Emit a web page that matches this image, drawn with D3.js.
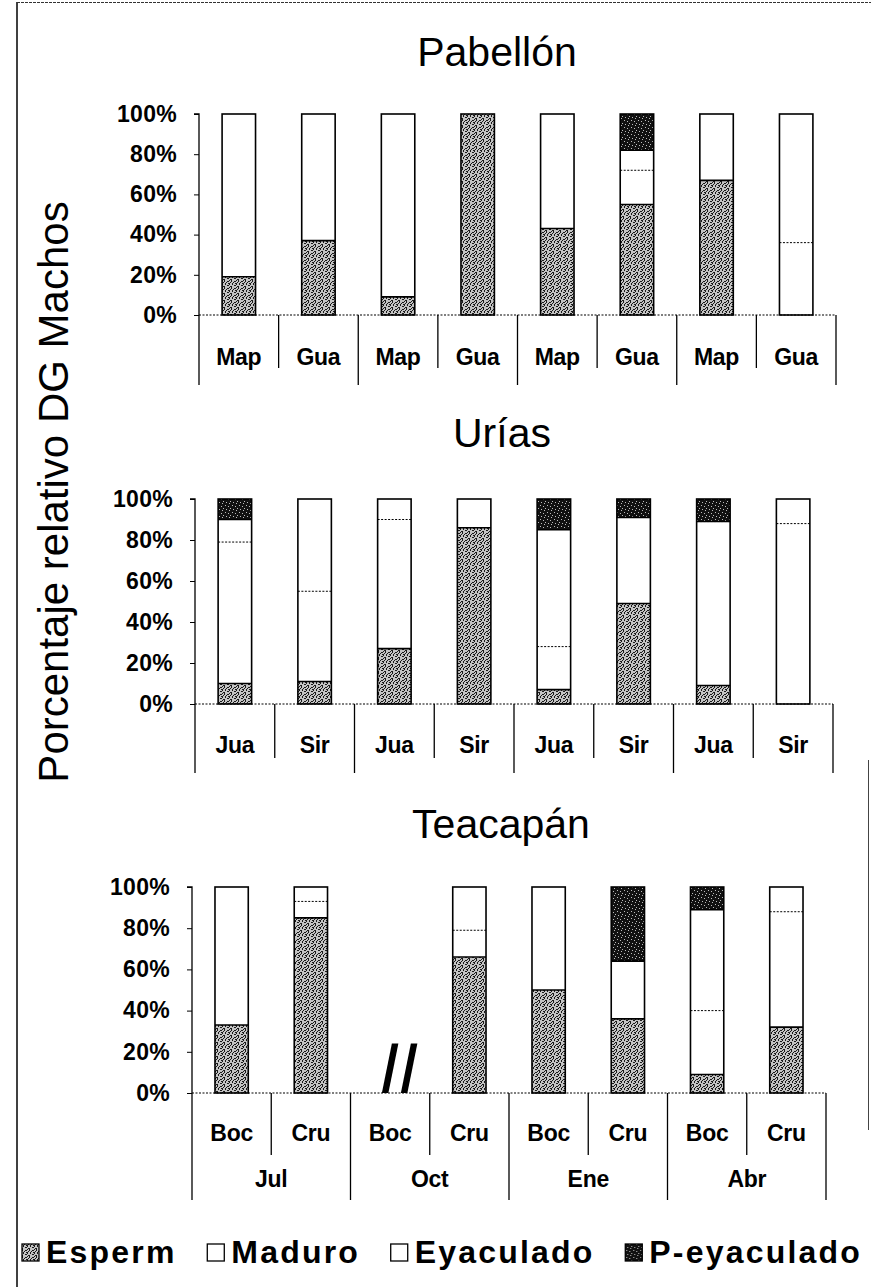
<!DOCTYPE html>
<html>
<head>
<meta charset="utf-8">
<script src="https://cdn.jsdelivr.net/npm/d3@7"></script>
<style>
  body { margin: 0; background: #fff; }
  svg { display: block; font-family: "Liberation Sans", Arial, Helvetica, sans-serif; }
</style>
</head>
<body>
<svg id="chart" width="871" height="1287"></svg>
<script>
// ---- data -------------------------------------------------------------
const seriesNames = ["Esperm", "Maduro", "Eyaculado", "P-eyaculado"];
const yTicks = [0, 20, 40, 60, 80, 100];
const yTickLabels = ["0%", "20%", "40%", "60%", "80%", "100%"];
const yAxisTitle = "Porcentaje relativo DG Machos";

// Pabellón
const pabSites   = ["Map", "Gua", "Map", "Gua", "Map", "Gua", "Map", "Gua"];
const pabEsperm  = [19, 37,  9, 100, 43, 55, 67,  0];
const pabMaduro  = [81, 63, 91,   0, 57, 17, 33, 36];
const pabEyac    = [ 0,  0,  0,   0,  0, 10,  0, 64];
const pabPeyac   = [ 0,  0,  0,   0,  0, 18,  0,  0];

// Urías
const uriSites   = ["Jua", "Sir", "Jua", "Sir", "Jua", "Sir", "Jua", "Sir"];
const uriEsperm  = [10, 11, 27, 86,  7, 49,  9,  0];
const uriMaduro  = [69, 44, 63, 14, 21, 42, 80, 88];
const uriEyac    = [11, 45, 10,  0, 57,  0,  0, 12];
const uriPeyac   = [10,  0,  0,  0, 15,  9, 11,  0];

// Teacapán (Boc in October was not sampled)
const teaSites   = ["Boc", "Cru", "Boc", "Cru", "Boc", "Cru", "Boc", "Cru"];
const teaMonths  = ["Jul", "Oct", "Ene", "Abr"];
const teaEsperm  = [33, 85, null, 66, 50, 36,  9, 32];
const teaMaduro  = [67,  8, null, 13, 50, 28, 31, 56];
const teaEyac    = [ 0,  7, null, 21,  0,  0, 49, 12];
const teaPeyac   = [ 0,  0, null,  0,  0, 36, 11,  0];

// ---- panel layout -----------------------------------------------------
const panels = [
  { title: "Pabellón", titleX: 497, titleY: 66,
    sites: pabSites, months: null,
    values: [pabEsperm, pabMaduro, pabEyac, pabPeyac],
    x0: 199, x1: 836, yTop: 114, yBase: 315,
    labelDy: 42, shortDy: 53, tallDy: 70, monthDy: 0 },
  { title: "Urías", titleX: 502, titleY: 447,
    sites: uriSites, months: null,
    values: [uriEsperm, uriMaduro, uriEyac, uriPeyac],
    x0: 195, x1: 833, yTop: 499, yBase: 704,
    labelDy: 41, shortDy: 54, tallDy: 69, monthDy: 0 },
  { title: "Teacapán", titleX: 501, titleY: 838,
    sites: teaSites, months: teaMonths,
    values: [teaEsperm, teaMaduro, teaEyac, teaPeyac],
    x0: 192, x1: 826, yTop: 887, yBase: 1093,
    labelDy: 40, shortDy: 62, tallDy: 107, monthDy: 86 }
];

const svg = d3.select("#chart");

// ---- fill textures ----------------------------------------------------
const defs = svg.append("defs");
const speck = defs.append("pattern").attr("id", "speck")
  .attr("patternUnits", "userSpaceOnUse").attr("width", 7).attr("height", 7);
speck.append("rect").attr("width", 7).attr("height", 7).attr("fill", "#c4c4c4");
[[0,0,1,2],[3,1,2,1],[5,3,1,2],[1,4,1,1],[3,5,2,1],[6,6,1,1],[2,2,1,1],[0,6,1,1],[5,0,1,1],[4,3,1,1],[1,3,1,1],[6,2,1,1]]
  .forEach(d => speck.append("rect").attr("x", d[0]).attr("y", d[1])
    .attr("width", d[2]).attr("height", d[3]).attr("fill", "#1a1a1a"));

const dark = defs.append("pattern").attr("id", "dark")
  .attr("patternUnits", "userSpaceOnUse").attr("width", 7).attr("height", 7);
dark.append("rect").attr("width", 7).attr("height", 7).attr("fill", "#111");
[[1,1,1,1],[4,2,1,1],[2,5,1,1],[6,4,1,1],[5,6,1,1]]
  .forEach(d => dark.append("rect").attr("x", d[0]).attr("y", d[1])
    .attr("width", d[2]).attr("height", d[3]).attr("fill", "#bbb"));

const fills = { "Esperm": "url(#speck)", "Maduro": "#fff", "Eyaculado": "#fff", "P-eyaculado": "url(#dark)" };

// ---- frame ------------------------------------------------------------
svg.append("line").attr("x1", 17).attr("x2", 17).attr("y1", 2).attr("y2", 1287)
  .attr("stroke", "#000").attr("stroke-width", 1.5);
svg.append("line").attr("x1", 17).attr("x2", 871).attr("y1", 2.5).attr("y2", 2.5)
  .attr("stroke", "#333").attr("stroke-width", 1).attr("stroke-dasharray", "3,1");
svg.append("line").attr("x1", 868.5).attr("x2", 868.5).attr("y1", 760).attr("y2", 1130)
  .attr("stroke", "#444").attr("stroke-width", 1);

// ---- y-axis title -----------------------------------------------------
svg.append("text")
  .attr("transform", "translate(68,492) rotate(-90)")
  .attr("text-anchor", "middle")
  .attr("font-size", 42)
  .attr("fill", "#000")
  .text(yAxisTitle);

// ---- panels -----------------------------------------------------------
panels.forEach(p => {
  const g = svg.append("g");
  const n = p.sites.length;
  const idx = d3.range(n);

  const rows = idx.map(i => {
    const r = { i, missing: p.values[0][i] == null };
    seriesNames.forEach((s, k) => { r[s] = p.values[k][i] == null ? 0 : p.values[k][i]; });
    return r;
  });
  const stacked = d3.stack().keys(seriesNames)(rows);

  const slot = d3.scaleBand().domain(idx).range([p.x0, p.x1]).padding(0);
  const xb = d3.scaleBand().domain(idx).range([p.x0, p.x1]).paddingInner(0.58).paddingOuter(0.29);
  const y = d3.scaleLinear().domain([0, 100]).range([p.yBase, p.yTop]);

  // title
  g.append("text").attr("x", p.titleX).attr("y", p.titleY)
    .attr("text-anchor", "middle").attr("font-size", 41).attr("fill", "#000")
    .text(p.title);

  // y axis
  const yAxis = d3.axisLeft(y).tickValues(yTicks).tickSize(5)
    .tickFormat((d, i) => yTickLabels[i]).tickPadding(17);
  const ya = g.append("g").attr("transform", `translate(${p.x0},0)`).call(yAxis);
  ya.select(".domain").attr("stroke", "#000").attr("stroke-width", 1.3)
    .attr("d", `M-5,${p.yTop}H0V${p.yBase}`);
  ya.selectAll(".tick line").attr("stroke", "#000").attr("stroke-width", 1);
  ya.selectAll(".tick text").attr("font-size", 23).attr("font-weight", "bold")
    .attr("fill", "#000").attr("font-family", "\"Liberation Sans\", Arial, sans-serif")
    .attr("letter-spacing", "0.3");

  // stacked bars
  const layer = g.append("g");
  stacked.forEach(s => {
    layer.selectAll(null).data(s.filter(d => !d.data.missing && d[1] > d[0]))
      .join("rect")
      .attr("x", d => xb(d.data.i))
      .attr("width", xb.bandwidth())
      .attr("y", d => y(d[1]))
      .attr("height", d => y(d[0]) - y(d[1]))
      .attr("fill", fills[s.key]);
  });

  // boundaries between segments
  stacked.forEach((s, k) => {
    if (k === stacked.length - 1) return;
    s.filter(d => !d.data.missing && d[1] > 0 && d[1] < 100).forEach(d => {
      const line = layer.append("line")
        .attr("x1", xb(d.data.i)).attr("x2", xb(d.data.i) + xb.bandwidth())
        .attr("y1", y(d[1])).attr("y2", y(d[1]))
        .attr("stroke", "#000");
      if (s.key === "Maduro") {
        line.attr("stroke-width", 1).attr("stroke-dasharray", "2,1.5");
      } else {
        line.attr("stroke-width", 1.6);
      }
    });
  });

  // bar outlines
  layer.selectAll(null).data(rows.filter(r => !r.missing))
    .join("rect")
    .attr("x", r => xb(r.i)).attr("width", xb.bandwidth())
    .attr("y", y(100)).attr("height", y(0) - y(100))
    .attr("fill", "none").attr("stroke", "#000").attr("stroke-width", 1.6);

  // missing sample marker
  rows.filter(r => r.missing).forEach(r => {
    const c = slot(r.i) + slot.bandwidth() / 2;
    [-5, 14].forEach(off => {
      const b = y(0), t = y(24), w = 6.5;
      layer.append("path")
        .attr("d", `M${c + off - w / 2},${b} L${c + off + 10 - w / 2},${t} L${c + off + 10 + w / 2},${t} L${c + off + w / 2},${b} Z`)
        .attr("fill", "#000");
    });
  });

  // category axis
  g.append("line").attr("x1", p.x0).attr("x2", p.x1).attr("y1", p.yBase).attr("y2", p.yBase)
    .attr("stroke", "#000").attr("stroke-width", 1.2).attr("stroke-dasharray", "2,1.5");

  d3.range(n + 1).forEach(i => {
    const x = i < n ? slot(i) : p.x1;
    const tall = i % 2 === 0;
    g.append("line").attr("x1", x).attr("x2", x)
      .attr("y1", p.yBase).attr("y2", p.yBase + (tall ? p.tallDy : p.shortDy))
      .attr("stroke", "#000").attr("stroke-width", 1.3);
  });

  g.selectAll(null).data(idx).join("text")
    .attr("x", i => slot(i) + slot.bandwidth() / 2)
    .attr("y", p.yBase + p.labelDy)
    .attr("text-anchor", "middle").attr("dominant-baseline", "central")
    .attr("font-size", 23).attr("font-weight", "bold").attr("letter-spacing", "-0.3")
    .attr("fill", "#000")
    .text(i => p.sites[i]);

  if (p.months) {
    g.selectAll(null).data(p.months).join("text")
      .attr("x", (m, j) => slot(2 * j) + slot.bandwidth())
      .attr("y", p.yBase + p.monthDy)
      .attr("text-anchor", "middle").attr("dominant-baseline", "central")
      .attr("font-size", 23).attr("font-weight", "bold").attr("letter-spacing", "-0.3")
      .attr("fill", "#000")
      .text(m => m);
  }
});

// ---- legend (spread across the full width) ----------------------------
const legendLeft = 22, legendRight = 862;
const legend = svg.append("g").attr("transform", "translate(0,1263)");
const items = seriesNames.map(s => {
  const it = legend.append("g");
  it.append("rect").attr("x", 0).attr("y", -19).attr("width", 17).attr("height", 17)
    .attr("fill", fills[s]).attr("stroke", "#000").attr("stroke-width", 1.3);
  const t = it.append("text").attr("x", 24).attr("y", 0)
    .attr("font-size", 32).attr("font-weight", "bold").attr("letter-spacing", "2.2")
    .attr("fill", "#000").text(s);
  return { it, w: 24 + t.node().getComputedTextLength() };
});
const total = d3.sum(items, d => d.w);
const gap = (legendRight - legendLeft - total) / (items.length - 1);
let lx = legendLeft;
items.forEach(d => { d.it.attr("transform", `translate(${lx},0)`); lx += d.w + gap; });
</script>
</body>
</html>
